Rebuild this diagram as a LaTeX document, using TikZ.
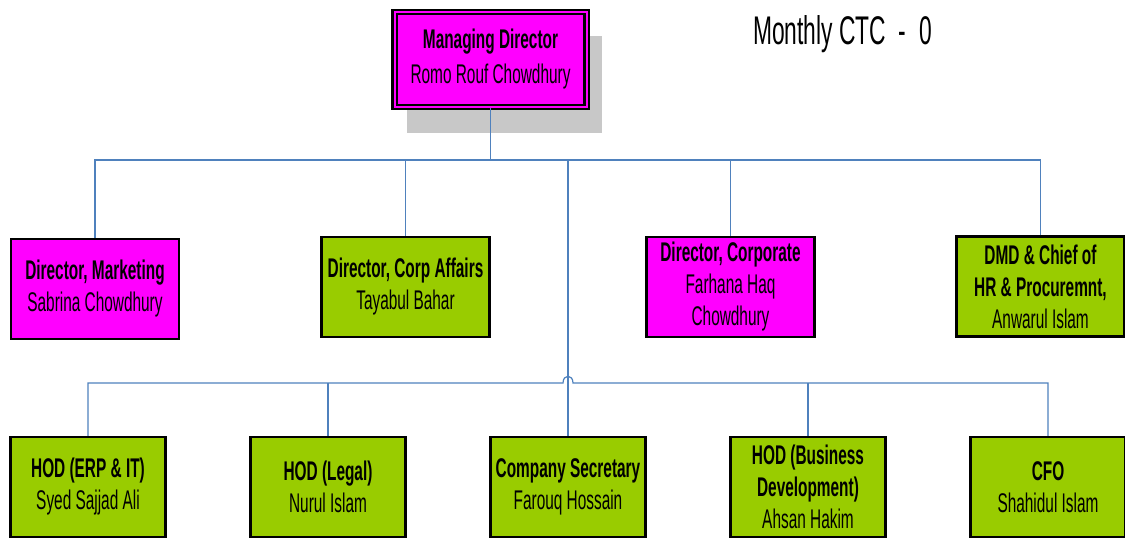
\documentclass[tikz,border=0pt]{standalone}
\usepackage{fontspec}
\setmainfont{Liberation Sans}[FakeStretch=0.57]
\usepackage{tikz}
\usetikzlibrary{calc,positioning,backgrounds}

\begin{document}
\begin{tikzpicture}[
    x=1pt,y=-1pt,
    link/.style={draw=linkblue,line width=1.2pt},
    post/.style={draw=black,line width=2.4pt,minimum height=100pt,inner sep=0pt,
      align=center,font=\fontsize{27}{32}\selectfont},
    director/.style={post,minimum width=168pt},
    hod/.style={post,minimum width=155pt}
  ]
  \definecolor{boardpink}{HTML}{FF00FF}
  \definecolor{deptgreen}{HTML}{99CC00}
  \definecolor{linkblue}{HTML}{4F81BD}
  \definecolor{shadowgray}{HTML}{C8C8C8}
  \def\role#1{\textbf{#1}}
  \useasboundingbox (0,0) rectangle (1125,539);

  % managing director
  \node (md) [post,fill=boardpink,draw=black,double=boardpink,double distance=2pt,
    line width=2.2pt,minimum width=192pt,minimum height=95pt,
    font=\fontsize{27}{35}\selectfont] at (490.5,59.5)
    {\role{Managing Director}\\Romo Rouf Chowdhury};
  \node (ctc) [anchor=base west,inner sep=0pt,font=\fontsize{40}{44}\selectfont]
    at (753,44) {Monthly CTC~~-~~0};

  % directors
  \node (mkt)  [director,fill=boardpink] at (95,289)
    {\role{Director, Marketing}\\Sabrina Chowdhury};
  \node (caff) [director,fill=deptgreen] at (405.5,287)
    {\role{Director, Corp Affairs}\\Tayabul Bahar};
  \node (corp) [director,fill=boardpink] at (730.5,287)
    {\role{Director, Corporate}\\Farhana Haq\\Chowdhury};
  \node (dmd)  [director,fill=deptgreen] at (1040.5,286.5)
    {\role{DMD \& Chief of}\\\role{HR \& Procuremnt,}\\Anwarul Islam};

  % heads of department
  \node (erp)    [hod,fill=deptgreen] at (88,487)
    {\role{HOD (ERP \& IT)}\\Syed Sajjad Ali};
  \node (legal)  [hod,fill=deptgreen] at (328,487)
    {\role{HOD (Legal)}\\Nurul Islam};
  \node (cs)     [hod,fill=deptgreen] at (568,487)
    {\role{Company Secretary}\\Farouq Hossain};
  \node (bizdev) [hod,fill=deptgreen] at (808,487)
    {\role{HOD (Business}\\\role{Development)}\\Ahsan Hakim};
  \node (cfo)    [hod,fill=deptgreen] at (1048,487)
    {\role{CFO}\\Shahidul Islam};

  \coordinate (top bus) at (490,160);
  \coordinate (low bus) at (568,383);
  \draw [link] (md.south) -- (md.south |- top bus);
  \foreach \n in {mkt,caff,corp,dmd}
    \draw [link] (\n.north) |- (top bus);
  \draw [link] (top bus -| cs.north) -- (cs.north);
  \draw [link] (erp.north) |- ($(low bus)+(-5,0)$)
    .. controls ($(low bus)+(-5,-9)$) and ($(low bus)+(5,-9)$) .. ($(low bus)+(5,0)$)
    -| (cfo.north);
  \foreach \n in {legal,bizdev}
    \draw [link] (\n.north) -- (\n.north |- low bus);

  \begin{pgfonlayer}{background}
    \fill [shadowgray] ($(md.north west)+(14,25)$) rectangle ($(md.south east)+(14,25)$);
  \end{pgfonlayer}
\end{tikzpicture}
\end{document}
